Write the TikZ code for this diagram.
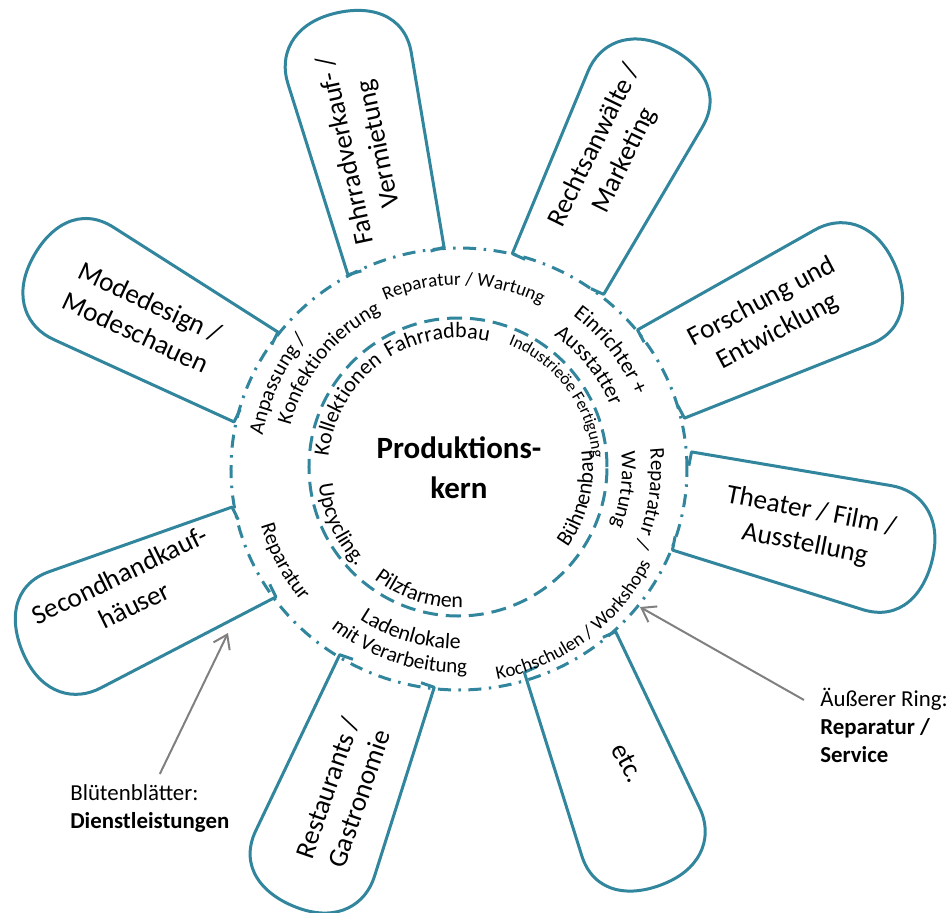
\documentclass[tikz,border=0pt]{standalone}
\usepackage{fontspec}
\setmainfont{Carlito}
\usetikzlibrary{arrows.meta,decorations.text}

\definecolor{flower}{RGB}{49,133,156}
\definecolor{arrowgray}{RGB}{128,128,128}

% text along an arc round the centre: radius, from, to, size, text
\newcommand{\ringtext}[5]{%
  \path[decorate,decoration={text along path,text align=center,
      text={|\fontsize{#4}{#4}\selectfont|#5}}]
    (#2:#1) arc[start angle=#2,end angle=#3,radius=#1];}

\begin{document}
\begin{tikzpicture}[x=0.2mm,y=0.2mm,
    petal/.style={draw=flower,line width=0.6mm,line join=round},
    outerring/.style={draw=flower,line width=0.6mm,
      dash pattern=on 2.6mm off 1.5mm on 0.5mm off 1.5mm},
    innerring/.style={draw=flower,line width=0.6mm,dash pattern=on 3mm off 1.6mm},
    petaltext/.style={align=center,font=\fontsize{15.5}{19}\selectfont},
    note/.style={align=left,anchor=north west,inner sep=0pt,
      font=\fontsize{13}{15.9}\selectfont},
    pointer/.style={draw=arrowgray,line width=0.4mm,
      -{Straight Barb[length=2.6mm,width=3.6mm]}}]
  \useasboundingbox (-459,-444) rectangle (493,469);

  % petals: base centre, direction, length
  \foreach \mx/\my/\rot/\len in {-63/208/106/255, 99/195/66/252, 202/95/28/258,
      223/-32/-11/257, 111/-183/-66/250, -72/-202/-109/253, -205/-83/206/252,
      -203/92/154/253}
    \draw[petal,shift={(\mx,\my)},rotate=\rot]
      (0,36) -- (0,50) -- (\len-55,55)
      .. controls (\len-25,56) and (\len,35) .. (\len,-5)
      .. controls (\len,-45) and (\len-20,-77) .. (\len-60,-72)
      -- (0,-50) -- (0,-36);

  % rings
  \draw[innerring] (-1,2) circle[radius=149];
  \draw[outerring] (0,0) ellipse[x radius=228,y radius=221];

  % outer ring
  \ringtext{184}{133.5}{43.5}{10.8}{Reparatur / Wartung}
  \ringtext{199}{200}{110}{12}{Anpassung /}
  \ringtext{174}{186}{96}{12}{Konfektionierung}
  \ringtext{191}{83}{-7}{12.5}{Einrichter +}
  \ringtext{164}{83.5}{-6.5}{12.5}{Ausstatter}
  \ringtext{192}{36.3}{-53.7}{12}{Reparatur /}
  \ringtext{163}{37.8}{-52.2}{12}{Wartung}
  \ringtext{214}{-98}{-8}{10.8}{Kochschulen / Workshops}
  \ringtext{180}{208.5}{298.5}{12.5}{Ladenlokale}
  \ringtext{204}{206.7}{296.7}{12}{mit Verarbeitung}
  \ringtext{206}{163}{253}{12}{Reparatur}
  % inner ring
  \ringtext{131}{195}{105}{12.5}{Kollektionen}
  \ringtext{131}{144.5}{54.5}{12.5}{Fahrradbau}
  \ringtext{134}{81.5}{-8.5}{9.7}{Industrieöe Fertigung}
  \ringtext{134}{-59}{31}{12.5}{Bühnenbau}
  \ringtext{141}{160}{250}{12.5}{Upcycling.}
  \ringtext{139}{207}{297}{12.5}{Pilzfarmen}

  \node[font=\bfseries\fontsize{17.6}{22.8}\selectfont,align=center] (core) at (0,1)
    {Produktions-\\kern};

  \node[petaltext,rotate=102] (bike) at (-96,322) {Fahrradverkauf- /\\Vermietung};
  \node[petaltext,rotate=64] (law) at (151,316) {Rechtsanwälte /\\Marketing};
  \node[petaltext,rotate=28] (research) at (311,152) {Forschung und\\Entwicklung};
  \node[petaltext,rotate=-11] (stage) at (349,-59) {Theater / Film /\\Ausstellung};
  \node[petaltext,rotate=-62] (etc) at (169,-294) {etc.};
  \node[petaltext,rotate=71] (food) at (-116,-324) {Restaurants /\\Gastronomie};
  \node[petaltext,rotate=26] (secondhand) at (-332,-121) {Secondhandkauf-\\häuser};
  \node[petaltext,rotate=-25] (fashion) at (-316,152) {Modedesign /\\Modeschauen};

  % notes
  \node[note] (petallbl) at (-389,-315) {Blütenblätter:\\\textbf{Dienstleistungen}};
  \node[note] (ringlbl) at (361,-219) {Äußerer Ring:\\\textbf{Reparatur /}\\\textbf{Service}};
  \coordinate (petalpt) at (-231,-164);
  \coordinate (ringpt) at (181,-138);
  \draw[pointer] ([xshift=2mm,yshift=2mm]petallbl.north) -- (petalpt);
  \draw[pointer] ([xshift=-3.2mm,yshift=-2.4mm]ringlbl.north west) -- (ringpt);
\end{tikzpicture}
\end{document}
